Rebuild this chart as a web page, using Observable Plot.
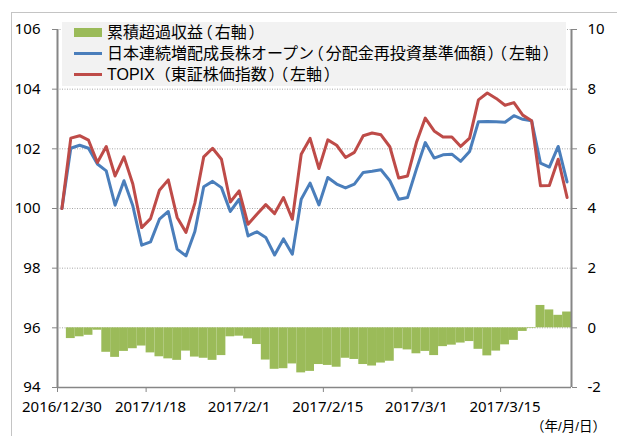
<!DOCTYPE html>
<html>
<head>
<meta charset="utf-8">
<script src="https://cdn.jsdelivr.net/npm/d3@7"></script>
<script src="https://cdn.jsdelivr.net/npm/@observablehq/plot@0.6"></script>
<style>
  html, body { margin: 0; padding: 0; background: #fff; }
  #wrap { position: relative; width: 617px; height: 436px; overflow: hidden; font-family: 'Noto Sans CJK JP', 'Noto Sans', sans-serif; color: #000; }
  #border { position: absolute; left: 11px; top: 12px; width: 620px; height: 440px; border: 1.5px solid #c4c4c4; box-sizing: border-box; }
  #chart { position: absolute; left: 0; top: 0; }
  #legend { position: absolute; left: 62px; top: 22px; width: 504px; height: 64px; background: #f2f2f2; }
  .row { position: absolute; left: 12px; height: 21px; display: flex; align-items: center; font-family: 'Liberation Sans', 'Noto Sans CJK JP', sans-serif; font-size: 16px; line-height: 17px; white-space: nowrap; }
  .row span { display: inline-block; line-height: 17px; height: 17px; }
  .sw { width: 28px; margin-right: 5px; flex: none; }
  .paren { font-feature-settings: "halt"; padding: 0 1.8px; }
  #unit { position: absolute; right: 11px; top: 419px; font-family: 'Liberation Sans', 'Noto Sans CJK JP', sans-serif; font-size: 13.5px; line-height: 16px; height: 16px; white-space: nowrap; }
</style>
</head>
<body>
<div id="wrap">
  <div id="border"></div>
  <div id="chart"></div>
  <div id="legend"></div>
  <div id="unit"></div>
</div>
<script>
// Trading days (category axis)
const dates = [
  "2016/12/30",
  "2017/1/4","2017/1/5","2017/1/6","2017/1/10","2017/1/11","2017/1/12","2017/1/13","2017/1/16","2017/1/17","2017/1/18",
  "2017/1/19","2017/1/20","2017/1/23","2017/1/24","2017/1/25","2017/1/26","2017/1/27","2017/1/30","2017/1/31",
  "2017/2/1","2017/2/2","2017/2/3","2017/2/6","2017/2/7","2017/2/8","2017/2/9","2017/2/10","2017/2/13","2017/2/14",
  "2017/2/15","2017/2/16","2017/2/17","2017/2/20","2017/2/21","2017/2/22","2017/2/23","2017/2/24","2017/2/27","2017/2/28",
  "2017/3/1","2017/3/2","2017/3/3","2017/3/6","2017/3/7","2017/3/8","2017/3/9","2017/3/10","2017/3/13","2017/3/14",
  "2017/3/15","2017/3/16","2017/3/17","2017/3/21","2017/3/22","2017/3/23","2017/3/24","2017/3/27"
];
// 日本連続増配成長株オープン (left axis)
const fund = [
  100.00, 102.02, 102.12, 102.02, 101.49, 101.26, 100.11, 100.93, 100.09, 98.77,
  98.88, 99.64, 99.90, 98.64, 98.41, 99.23, 100.73, 100.91, 100.70, 99.90,
  100.31, 99.08, 99.22, 99.03, 98.44, 98.98, 98.47, 100.31, 100.85, 100.12,
  101.04, 100.82, 100.69, 100.82, 101.21, 101.25, 101.30, 100.93, 100.31, 100.37,
  101.32, 102.21, 101.69, 101.80, 101.82, 101.58, 101.91, 102.91, 102.92, 102.91,
  102.89, 103.11, 102.99, 102.94, 101.52, 101.39, 102.08, 100.89
];
// TOPIX (left axis)
const topix = [
  100.00, 102.36, 102.44, 102.29, 101.54, 102.08, 101.09, 101.73, 100.82, 99.36,
  99.66, 100.61, 100.96, 99.70, 99.20, 100.18, 101.73, 102.02, 101.65, 100.22,
  100.59, 99.47, 99.81, 100.13, 99.83, 100.37, 99.64, 101.82, 102.35, 101.34,
  102.30, 102.12, 101.71, 101.88, 102.44, 102.53, 102.47, 102.07, 101.02, 101.09,
  102.21, 103.03, 102.60, 102.40, 102.40, 102.08, 102.36, 103.64, 103.87, 103.69,
  103.46, 103.55, 103.13, 102.94, 100.76, 100.77, 101.65, 100.37
];
// 累積超過収益 (right axis)
const excess = [
  0, -0.36, -0.30, -0.25, -0.08, -0.82, -0.99, -0.79, -0.70, -0.61,
  -0.84, -0.97, -1.04, -1.09, -0.78, -0.98, -1.02, -1.09, -0.93, -0.30,
  -0.28, -0.37, -0.56, -1.08, -1.39, -1.37, -1.21, -1.51, -1.46, -1.23,
  -1.26, -1.32, -1.02, -1.06, -1.23, -1.28, -1.18, -1.12, -0.70, -0.74,
  -0.87, -0.79, -0.93, -0.63, -0.58, -0.51, -0.46, -0.72, -0.94, -0.78,
  -0.57, -0.42, -0.12, -0.02, 0.75, 0.60, 0.42, 0.53
];
const labelIndex = [0, 10, 20, 30, 40, 50];
const leftTicks = [94, 96, 98, 100, 102, 104, 106];
const rightTicks = [-2, 0, 2, 4, 6, 8, 10];
const legendLabels = ["累積超過収益（右軸）", "日本連続増配成長株オープン（分配金再投資基準価額）（左軸）", "TOPIX（東証株価指数）（左軸）"];
const unitLabel = "（年/月/日）";

const leftMin = leftTicks[0], leftMax = leftTicks[leftTicks.length - 1];
const zeroLevel = leftMin - rightTicks[0]; // left-axis value where right axis = 0
const rows = excess.map((v, i) => ({i, v}));
const boundaries = labelIndex.map(i => i - 0.5);
const n = dates.length;
const axisGray = "#868686";

const chart = Plot.plot({
  width: 617,
  height: 436,
  marginLeft: 57,
  marginRight: 46,
  marginTop: 29,
  marginBottom: 49,
  style: {fontFamily: "'Noto Sans', 'Noto Sans CJK JP', sans-serif", fontSize: "15px", color: "#000", background: "transparent", overflow: "visible"},
  x: {domain: [-0.5, n - 0.5]},
  y: {domain: [leftMin, leftMax]},
  marks: [
    Plot.ruleY(leftTicks.slice(1), {stroke: "#a6a6a6", strokeWidth: 1, strokeDasharray: "1,1.5"}),
    Plot.rectY(rows, {x1: d => d.i - 0.5, x2: d => d.i + 0.5, y1: () => zeroLevel, y2: d => zeroLevel + d.v, fill: "#9bbb59", inset: 0}),
    Plot.ruleY([leftMin], {stroke: axisGray, strokeWidth: 1.5}),
    Plot.ruleX([-0.5, n - 0.5], {stroke: axisGray, strokeWidth: 2}),
    Plot.axisY({anchor: "left", ticks: leftTicks, tickSize: 5, tickPadding: 12, stroke: axisGray, fill: "#000", label: null}),
    Plot.axisY({anchor: "right", ticks: leftTicks, tickSize: 5, tickPadding: 11, tickFormat: (v, k) => String(rightTicks[k]), stroke: axisGray, fill: "#000", label: null}),
    Plot.axisX({ticks: boundaries, tickSize: 5, tickFormat: () => "", stroke: axisGray, label: null}),
    Plot.axisX({ticks: labelIndex, tickSize: 0, tickPadding: 14, tickFormat: i => dates[i], fill: "#000", label: null}),
    Plot.lineY(fund, {stroke: "#4a7ebb", strokeWidth: 3, strokeLinejoin: "round", strokeLinecap: "round"}),
    Plot.lineY(topix, {stroke: "#be4b48", strokeWidth: 3, strokeLinejoin: "round", strokeLinecap: "round"})
  ]
});
document.getElementById("chart").appendChild(chart);

// Legend (inside plot area, as in the reference)
const legend = document.getElementById("legend");
const swatches = [
  {type: "rect", color: "#9bbb59"},
  {type: "line", color: "#4a7ebb"},
  {type: "line", color: "#be4b48"}
];
legendLabels.forEach((t, k) => {
  const row = document.createElement("div");
  row.className = "row";
  row.style.top = (0 + k * 21) + "px";
  const sw = document.createElement("div");
  sw.className = "sw";
  sw.style.height = swatches[k].type === "rect" ? "9px" : "3px";
  sw.style.background = swatches[k].color;
  const tx = document.createElement("span");
  // narrow the full-width parentheses, as in the reference
  let first = true;
  for (const part of t.split(/([（）])/)) {
    if (!part) continue;
    const s = document.createElement("span");
    s.textContent = part;
    if (part === "（" || part === "）") {
      if (!(k === 2 && first && part === "（")) s.className = "paren";
      first = false;
    }
    tx.appendChild(s);
  }
  row.appendChild(sw);
  row.appendChild(tx);
  legend.appendChild(row);
});
document.getElementById("unit").textContent = unitLabel;
</script>
</body>
</html>
